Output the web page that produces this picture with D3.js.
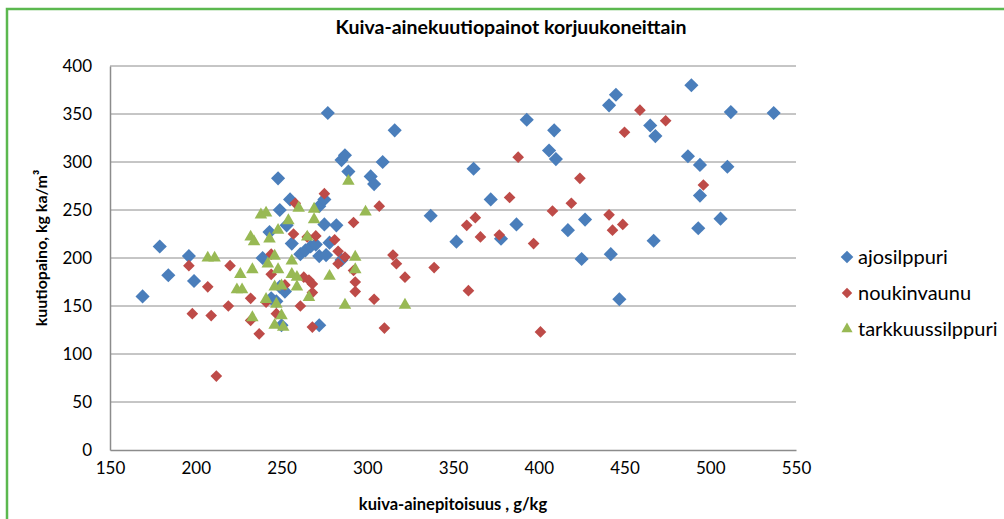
<!DOCTYPE html>
<html>
<head>
<meta charset="utf-8">
<script src="https://cdn.jsdelivr.net/npm/d3@7"></script>
<style>
  body { margin: 0; background: #fff; }
  svg { font-family: Lato, "Open Sans", sans-serif; }
</style>
</head>
<body>
<svg id="chart" width="1004" height="519"></svg>
<script>
// ajosilppuri: [kuiva-ainepitoisuus, kuutiopaino]
const ajosilppuri = [
  [169,160],[179,212],[184,182],[196,202],[199,176],[239,200],[243,227],[244,158],
  [247,155],[248,283],[249,250],[249,170],[250,130],[252,165],[253,234],[255,261],
  [256,215],[261,204],[264,208],[267,212],[270,214],[272,202],[272,254],[272,130],
  [275,235],[275,261],[276,203],[278,216],[285,198],[277,351],[282,234],[285,302],
  [287,307],[289,290],[302,285],[304,277],[309,300],[316,333],[337,244],[352,217],
  [362,293],[372,261],[378,220],[387,235],[393,344],[406,312],[409,333],[410,303],
  [417,229],[425,199],[427,240],[441,359],[442,204],[445,370],[447,157],[465,338],
  [467,218],[468,327],[487,306],[489,380],[493,231],[494,297],[494,265],[506,241],
  [510,295],[512,352],[537,351]
];
const noukinvaunu = [
  [196,192],[198,142],[207,170],[209,140],[212,77],[219,150],[220,192],[232,158],
  [232,135],[237,121],[241,154],[244,204],[244,183],[247,142],[252,172],[257,225],
  [258,257],[261,150],[263,180],[265,222],[266,177],[268,173],[268,164],[268,128],
  [270,223],[275,267],[281,219],[283,207],[283,194],[287,201],[292,237],[292,187],
  [293,175],[293,165],[304,157],[307,254],[310,127],[315,203],[317,194],[322,180],
  [339,190],[358,234],[359,166],[363,242],[366,222],[377,224],[383,263],[388,305],
  [397,215],[401,123],[408,249],[419,257],[424,283],[441,245],[443,229],[449,235],
  [450,331],[459,354],[474,343],[496,276]
];
const tarkkuussilppuri = [
  [207,200],[211,200],[224,167],[226,183],[227,167],[232,222],[233,188],[233,138],
  [234,217],[238,245],[241,247],[241,157],[242,194],[243,220],[246,202],[246,170],
  [246,130],[247,152],[248,229],[248,188],[250,171],[250,140],[251,128],[254,239],
  [256,197],[256,183],[259,180],[259,170],[260,252],[265,222],[266,159],[269,251],
  [269,240],[278,181],[287,151],[289,280],[293,201],[293,188],[299,248],[322,151]
];
const seriesNames = ["ajosilppuri", "noukinvaunu", "tarkkuussilppuri"];
const xTicks = [150, 200, 250, 300, 350, 400, 450, 500, 550];
const yTicks = [0, 50, 100, 150, 200, 250, 300, 350, 400];

// diamonds are squares turned 45 degrees, like the spreadsheet markers
const series = [
  { name: seriesNames[0], data: ajosilppuri, color: "#4a7ebb", shape: d3.symbolSquare, size: 100, rot: 45 },
  { name: seriesNames[1], data: noukinvaunu, color: "#be4b48", shape: d3.symbolSquare, size: 68, rot: 45 },
  { name: seriesNames[2], data: tarkkuussilppuri, color: "#98b954", shape: d3.symbolTriangle, size: 68, rot: 0 }
];

const svg = d3.select("#chart");

// outer frame
svg.append("rect")
  .attr("x", 7).attr("y", 9)
  .attr("width", 1020).attr("height", 540)
  .attr("fill", "none")
  .attr("stroke", "#5bb84f")
  .attr("stroke-width", 2.5);

const margin = { left: 110, top: 66, right: 796, bottom: 450 };
const x = d3.scaleLinear().domain([150, 550]).range([margin.left, margin.right]);
const y = d3.scaleLinear().domain([0, 400]).range([margin.bottom, margin.top]);

// gridlines
svg.append("g")
  .selectAll("line")
  .data(yTicks.filter(t => t > 0))
  .join("line")
  .attr("x1", margin.left).attr("x2", margin.right)
  .attr("y1", d => y(d)).attr("y2", d => y(d))
  .attr("stroke", "#8c8c8c").attr("stroke-width", 1);

// axes
const yAxis = svg.append("g")
  .attr("transform", `translate(${margin.left},0)`)
  .call(d3.axisLeft(y).tickValues(yTicks).tickSize(0).tickPadding(18).tickFormat(d3.format("d")));
const xAxis = svg.append("g")
  .attr("transform", `translate(0,${margin.bottom})`)
  .call(d3.axisBottom(x).tickValues(xTicks).tickSize(0).tickPadding(12).tickFormat(d3.format("d")));

[xAxis, yAxis].forEach(a => {
  a.select(".domain").attr("stroke", "#8c8c8c").attr("stroke-width", 1.5);
  a.selectAll("text").attr("font-size", 17).attr("fill", "#000")
    .attr("font-family", "Lato, sans-serif");
});

// points
series.forEach(s => {
  svg.append("g")
    .selectAll("path")
    .data(s.data)
    .join("path")
    .attr("d", d3.symbol().type(s.shape).size(s.size))
    .attr("transform", d => `translate(${x(d[0])},${y(d[1])}) rotate(${s.rot})`)
    .attr("fill", s.color);
});

// title
svg.append("text")
  .attr("x", 511).attr("y", 34)
  .attr("text-anchor", "middle")
  .attr("font-size", 19.5).attr("font-weight", "bold")
  .text("Kuiva-ainekuutiopainot korjuukoneittain");

// axis titles
svg.append("text")
  .attr("x", 453).attr("y", 510)
  .attr("text-anchor", "middle")
  .attr("font-size", 16.5).attr("font-weight", "bold")
  .text("kuiva-ainepitoisuus , g/kg");

svg.append("text")
  .attr("transform", "translate(47,248) rotate(-90)")
  .attr("text-anchor", "middle")
  .attr("font-size", 16).attr("font-weight", "bold")
  .text("kuutiopaino, kg ka/m³");

// legend
const legend = svg.append("g")
  .selectAll("g")
  .data(series)
  .join("g")
  .attr("transform", (d, i) => `translate(847,${257 + i * 36})`);

legend.append("path")
  .attr("d", d => d3.symbol().type(d.shape).size(d.size * 0.8)())
  .attr("transform", d => `rotate(${d.rot})`)
  .attr("fill", d => d.color);

legend.append("text")
  .attr("x", 11).attr("y", 6.5)
  .attr("font-size", 20)
  .text(d => d.name);
</script>
</body>
</html>
